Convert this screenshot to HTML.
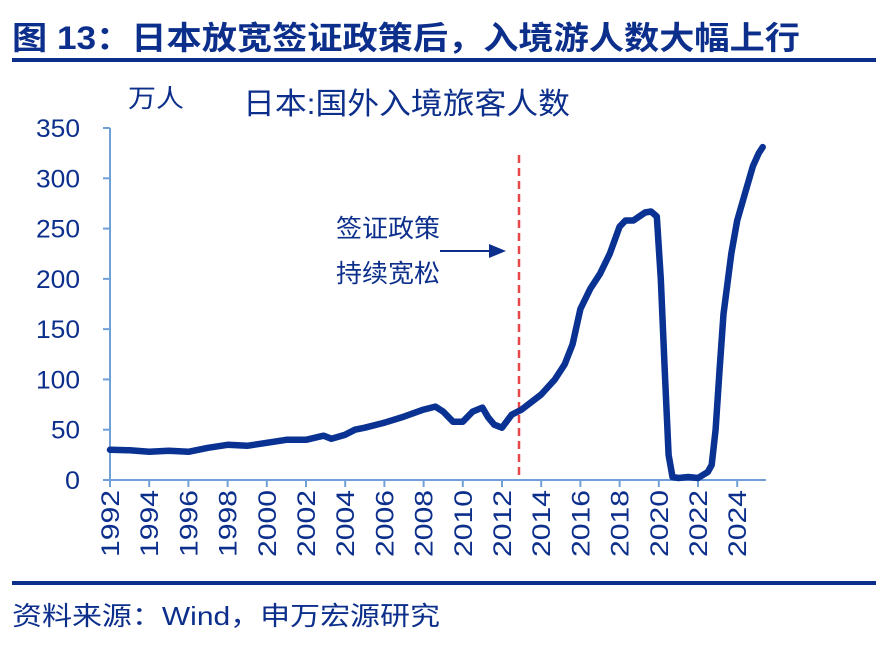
<!DOCTYPE html>
<html><head><meta charset="utf-8"><style>
body{margin:0;width:888px;height:640px;background:#fff;overflow:hidden;font-family:"Liberation Sans","Noto Sans CJK SC",sans-serif}
</style></head><body>
<svg width="888" height="640" xmlns="http://www.w3.org/2000/svg" font-family="Liberation Sans, Noto Sans CJK SC, sans-serif">
<text x="12" y="49" font-size="32" font-weight="bold" fill="#0d2f8c" textLength="788" lengthAdjust="spacingAndGlyphs">图 13：日本放宽签证政策后，入境游人数大幅上行</text>
<rect x="12" y="58" width="864" height="4" fill="#0d2f8c"/>
<text x="128" y="107" font-size="25" fill="#0d2f8c" textLength="56" lengthAdjust="spacingAndGlyphs">万人</text>
<text x="243" y="114" font-size="30" fill="#0d2f8c" textLength="327" lengthAdjust="spacingAndGlyphs">日本:国外入境旅客人数</text>
<g font-size="25" fill="#0d2f8c" text-anchor="end" id="yl"></g>
<g stroke="#6fa0d8" stroke-width="2" id="ax"></g>
<g font-size="25" fill="#0d2f8c" id="xl"></g>
<line x1="519" y1="155" x2="519" y2="480" stroke="#e8474a" stroke-width="2.5" stroke-dasharray="8,5"/>
<text x="336" y="237" font-size="25" fill="#0d2f8c" textLength="104" lengthAdjust="spacingAndGlyphs">签证政策</text>
<text x="336" y="282" font-size="25" fill="#0d2f8c" textLength="104" lengthAdjust="spacingAndGlyphs">持续宽松</text>
<line x1="440" y1="251" x2="492" y2="251" stroke="#0d2f8c" stroke-width="2"/>
<polygon points="506,251 489,244 489,258" fill="#0d2f8c"/>
<path id="ln" fill="none" stroke="#0a3293" stroke-width="6.5" stroke-linejoin="round" stroke-linecap="round"/>
<rect x="12" y="581" width="864" height="4" fill="#0d2f8c"/>
<text x="12" y="625" font-size="26" fill="#0d2f8c" textLength="428" lengthAdjust="spacingAndGlyphs">资料来源：Wind，申万宏源研究</text>
</svg>
<script>
var NS="http://www.w3.org/2000/svg";
function X(y){return 110+(y-1992)*19.6}
function Y(v){return 480-v*1.0057}
var yl=document.getElementById('yl'),ax=document.getElementById('ax'),xl=document.getElementById('xl');
for(var v=0;v<=350;v+=50){var t=document.createElementNS(NS,'text');t.setAttribute('x',80);t.setAttribute('y',Y(v)+9);t.setAttribute('textLength',v>=100?44:(v>0?29:15));t.setAttribute('lengthAdjust','spacingAndGlyphs');t.textContent=v;yl.appendChild(t);
var l=document.createElementNS(NS,'line');l.setAttribute('x1',103);l.setAttribute('x2',110);l.setAttribute('y1',Y(v));l.setAttribute('y2',Y(v));ax.appendChild(l);}
var a=document.createElementNS(NS,'line');a.setAttribute('x1',110);a.setAttribute('x2',110);a.setAttribute('y1',Y(350));a.setAttribute('y2',480);ax.appendChild(a);
a=document.createElementNS(NS,'line');a.setAttribute('x1',110);a.setAttribute('x2',766);a.setAttribute('y1',480);a.setAttribute('y2',480);ax.appendChild(a);
for(var yr=1992;yr<=2024;yr+=2){var x=X(yr);var l=document.createElementNS(NS,'line');l.setAttribute('x1',x);l.setAttribute('x2',x);l.setAttribute('y1',480);l.setAttribute('y2',487);ax.appendChild(l);
var t=document.createElementNS(NS,'text');t.setAttribute('transform','translate('+(x+9)+',557) rotate(-90)');t.setAttribute('textLength',67);t.setAttribute('lengthAdjust','spacingAndGlyphs');t.textContent=yr;xl.appendChild(t);}
var d=[[1992,30],[1993,29.5],[1994,28],[1995,29],[1996,28],[1997,32],[1998,35],[1999,34],[2000,37],[2001,40],[2002,40],[2002.9,44],[2003.3,41],[2004,45],[2004.5,50],[2005,52],[2006,57],[2007,63],[2008,70],[2008.6,73],[2009,68],[2009.5,58],[2010,58],[2010.5,68],[2011,72],[2011.3,62],[2011.6,55],[2012,52],[2012.5,65],[2013,70],[2014,85],[2014.7,100],[2015.2,115],[2015.6,135],[2016,170],[2016.5,190],[2017,205],[2017.5,225],[2018,252],[2018.3,258],[2018.7,258],[2019.3,266],[2019.6,267],[2019.9,262],[2020.1,200],[2020.3,110],[2020.5,25],[2020.7,3],[2021,2],[2021.5,3],[2022,2],[2022.5,8],[2022.7,15],[2022.9,50],[2023.1,110],[2023.3,165],[2023.7,225],[2024,258],[2024.4,285],[2024.8,312],[2025.1,325],[2025.3,331]];
var s='';d.forEach(function(p,i){s+=(i?'L':'M')+X(p[0]).toFixed(1)+' '+Y(p[1]).toFixed(1)});
document.getElementById('ln').setAttribute('d',s);
</script>
</body></html>
